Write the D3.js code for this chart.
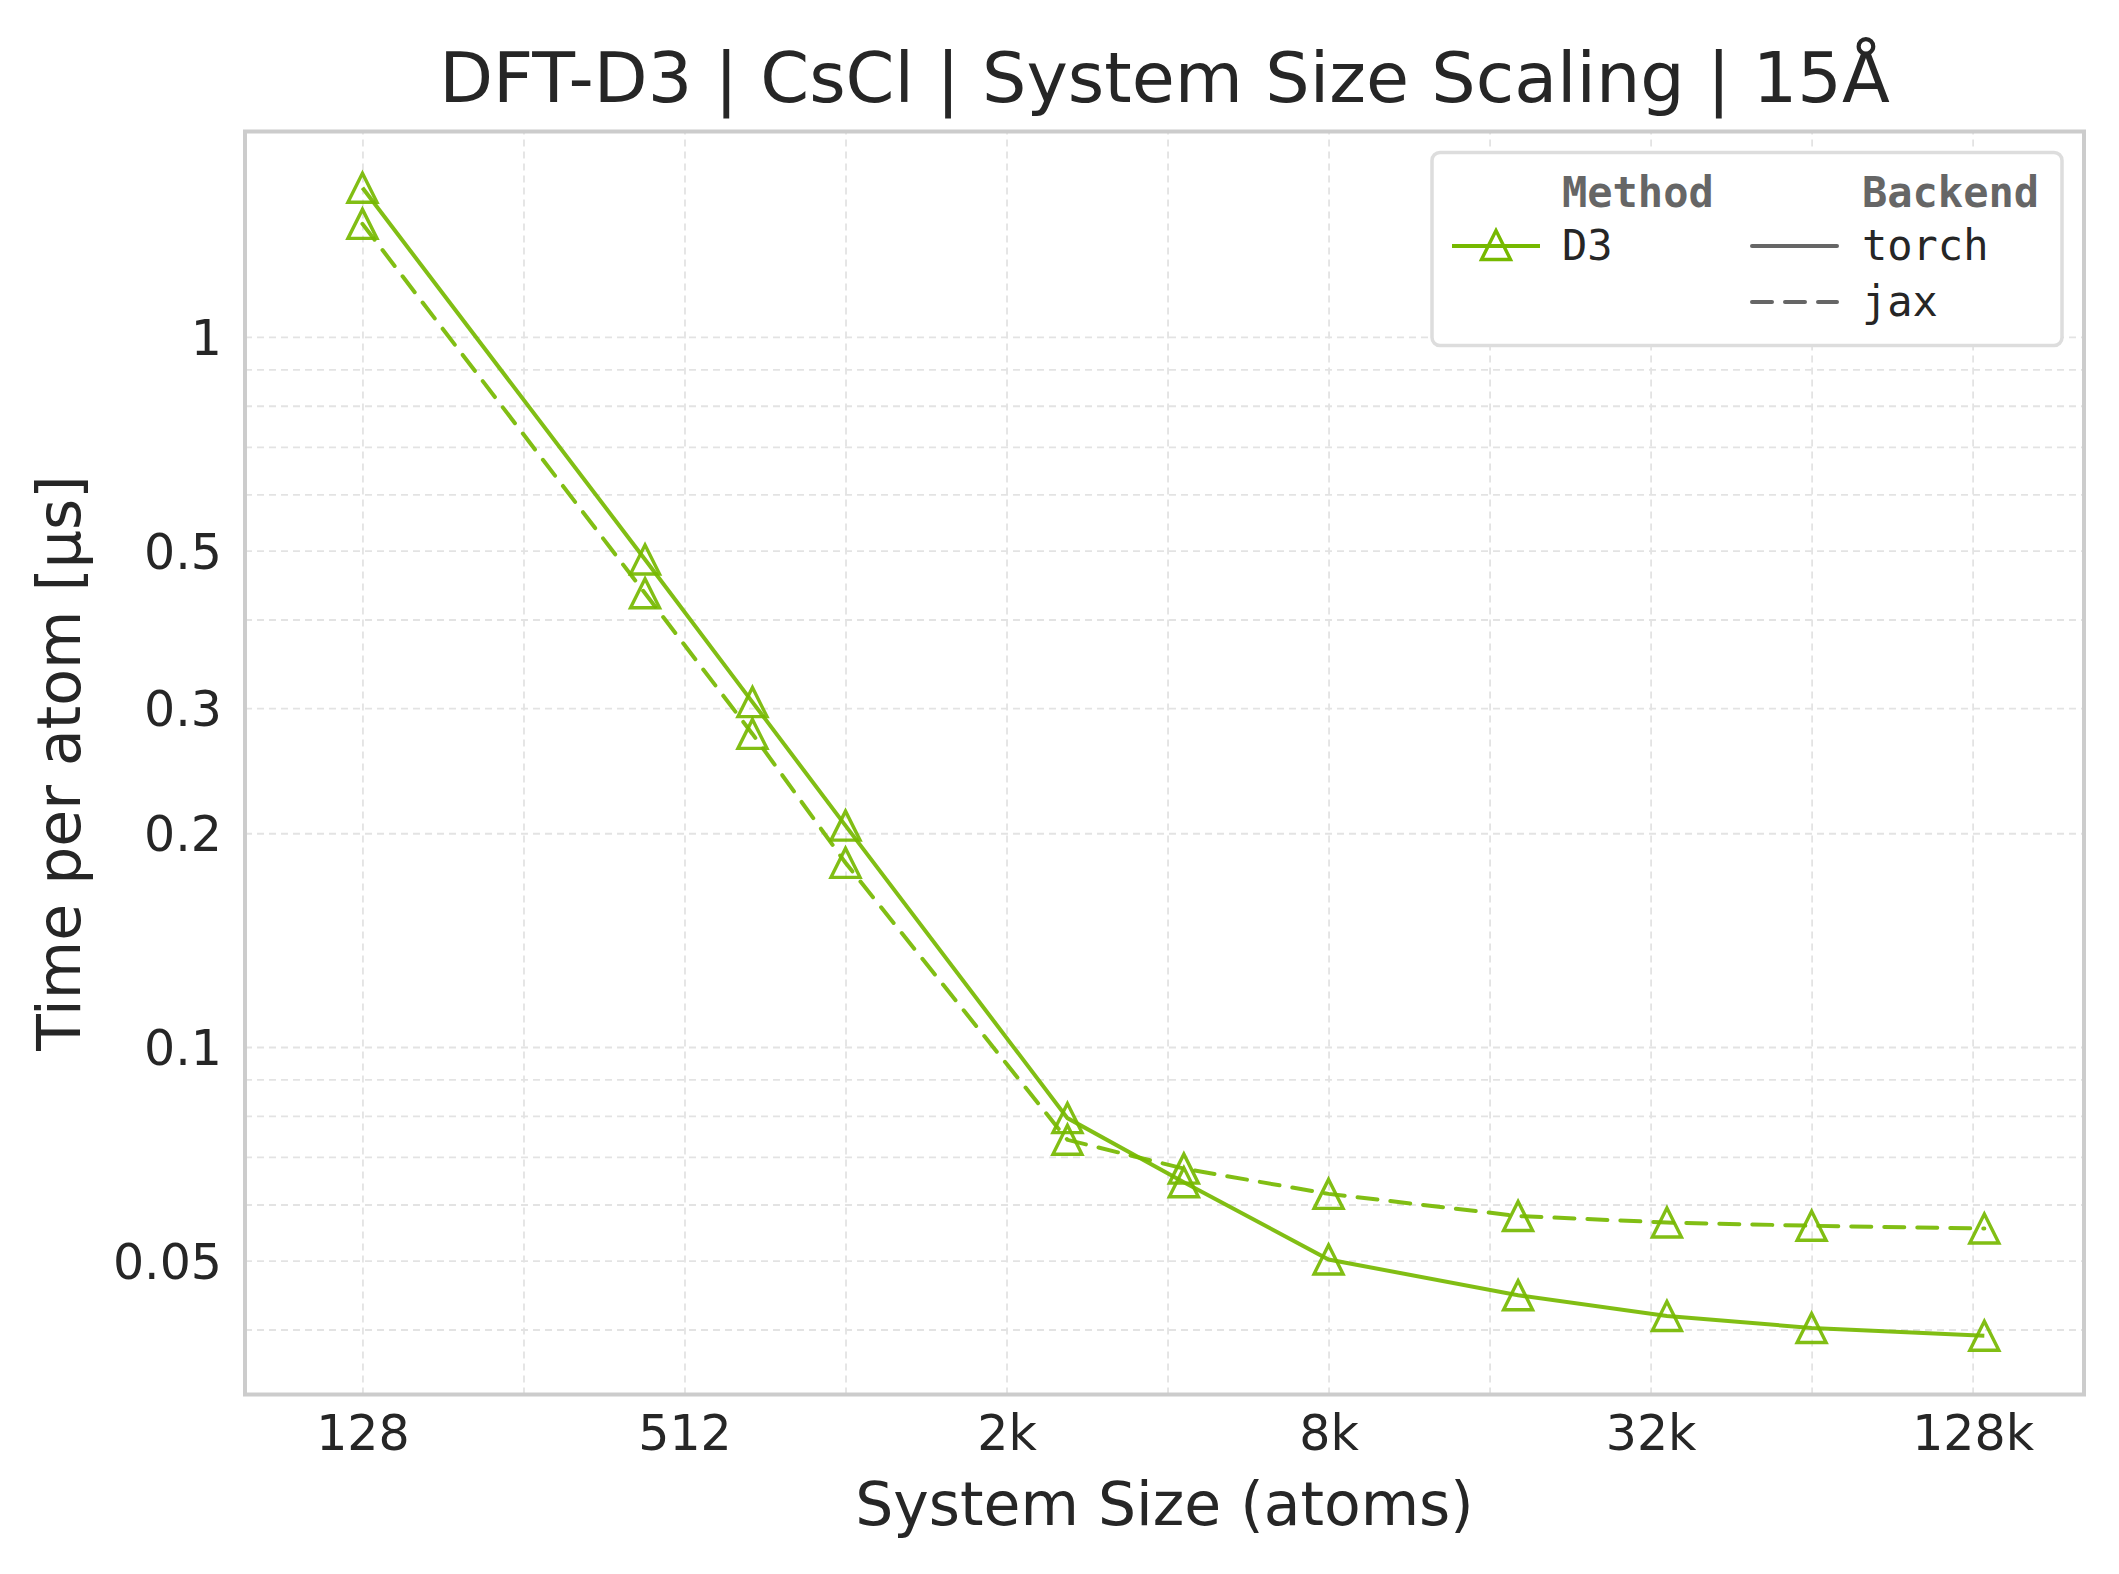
<!DOCTYPE html>
<meta charset="utf-8">
<style>
    body { margin: 0; background: #fff; }
    text { font-family: "DejaVu Sans", sans-serif; fill: #262626; }
    .grid line { stroke: #e3e3e3; stroke-width: 1.8; stroke-dasharray: 7,5; }
    .grid path { display: none; }
    .tick-labels path { display: none; }
    .tick-labels text { font-size: 49px; fill: #262626; }
    .legend text { font-family: "DejaVu Sans Mono", monospace; font-size: 42px; }
    .legend .head { font-weight: bold; fill: #666666; }
</style>
<body>
<script src="https://cdnjs.cloudflare.com/ajax/libs/d3/7.8.5/d3.min.js"></script>
<script>

    // supercell sizes (atoms) and time per atom [us]
    var sizes = [128, 432, 686, 1024, 2662, 4394, 8192, 18522, 35152, 65536, 137842];
    var torchTimes = [1.622, 0.486, 0.306, 0.205, 0.0794, 0.0645, 0.0502, 0.0447, 0.0418, 0.0402, 0.0392];
    var jaxTimes = [1.443, 0.4355, 0.276, 0.1817, 0.0740, 0.0674, 0.0621, 0.0578, 0.0566, 0.0560, 0.0555];

    var xTicks = [128, 512, 2048, 8192, 32768, 131072];
    var xTickLabels = ["128", "512", "2k", "8k", "32k", "128k"];
    var yTicks = [0.05, 0.1, 0.2, 0.3, 0.5, 1];
    var yTickLabels = ["0.05", "0.1", "0.2", "0.3", "0.5", "1"];

    var xGrid = d3.range(7, 18).map(function(p) { return Math.pow(2, p); });
    var yGrid = [0.04, 0.05, 0.06, 0.07, 0.08, 0.09, 0.1, 0.2, 0.3, 0.4, 0.5, 0.6, 0.7, 0.8, 0.9, 1];

    var series = [
        {name: "jax", values: jaxTimes, dash: "20,13"},
        {name: "torch", values: torchTimes, dash: null}
    ];

    var green = "#76b900";

    var W = 2119, H = 1574;
    var margin = {top: 131.5, right: 35, bottom: 179.5, left: 245},
            width = W - margin.left - margin.right,
            height = H - margin.top - margin.bottom;

    var x = d3.scaleLog().base(2).domain([77.2, 211700]).range([0, width]);
    var y = d3.scaleLog().domain([0.0324, 1.947]).range([height, 0]);

    var svg = d3.select("body").append("svg")
            .attr("width", W)
            .attr("height", H);

    var g = svg.append("g")
            .attr("transform", "translate(" + margin.left + "," + margin.top + ")");

    // grid
    g.append("g").attr("class", "grid")
            .attr("transform", "translate(0," + height + ")")
            .call(d3.axisBottom(x).tickValues(xGrid).tickSize(-height).tickFormat(""));
    g.append("g").attr("class", "grid")
            .call(d3.axisLeft(y).tickValues(yGrid).tickSize(-width).tickFormat(""));

    // tick labels
    var xAxis = g.append("g").attr("class", "tick-labels")
            .attr("transform", "translate(0," + height + ")")
            .call(d3.axisBottom(x).tickValues(xTicks).tickSize(0).tickPadding(0)
                    .tickFormat(function(d, i) { return xTickLabels[i]; }));
    xAxis.selectAll("text").attr("dy", null).attr("y", 55);

    var yAxis = g.append("g").attr("class", "tick-labels")
            .call(d3.axisLeft(y).tickValues(yTicks).tickSize(0).tickPadding(0)
                    .tickFormat(function(d, i) { return yTickLabels[i]; }));
    yAxis.selectAll("text").attr("x", -23).attr("dy", "0.36em");

    // lines
    var line = d3.line()
            .x(function(d, i) { return x(sizes[i]); })
            .y(function(d) { return y(d); });

    var tri = "M0,-14.5L14.5,14.5L-14.5,14.5Z";

    series.forEach(function(s) {
        g.append("path")
                .attr("d", line(s.values))
                .attr("fill", "none")
                .attr("stroke", green)
                .attr("stroke-width", 4)
                .attr("stroke-linecap", s.dash ? "round" : "butt")
                .attr("stroke-dasharray", s.dash)
                .attr("opacity", 0.92);
        g.selectAll("path.m-" + s.name).data(s.values).enter()
                .append("path")
                .attr("class", "m-" + s.name)
                .attr("d", tri)
                .attr("transform", function(d, i) { return "translate(" + x(sizes[i]) + "," + y(d) + ")"; })
                .attr("fill", "none")
                .attr("stroke", green)
                .attr("stroke-width", 3.4)
                .attr("opacity", 0.92);
    });

    // frame
    g.append("rect")
            .attr("width", width).attr("height", height)
            .attr("fill", "none").attr("stroke", "#cccccc").attr("stroke-width", 4);

    // titles
    svg.append("text")
            .attr("x", margin.left + width / 2).attr("y", 102)
            .attr("text-anchor", "middle").attr("font-size", 70)
            .text("DFT-D3 | CsCl | System Size Scaling | 15Å");
    svg.append("text")
            .attr("x", margin.left + width / 2).attr("y", 1525)
            .attr("text-anchor", "middle").attr("font-size", 60)
            .text("System Size (atoms)");
    svg.append("text")
            .attr("transform", "translate(80," + (margin.top + height / 2) + ") rotate(-90)")
            .attr("text-anchor", "middle").attr("font-size", 60)
            .text("Time per atom [μs]");

    // legend
    var lg = svg.append("g").attr("class", "legend");
    lg.append("rect")
            .attr("x", 1432).attr("y", 152.5).attr("width", 630).attr("height", 193)
            .attr("rx", 8).attr("fill", "#fff").attr("stroke", "#dddddd").attr("stroke-width", 3.5);
    lg.append("text").attr("class", "head").attr("x", 1562).attr("y", 207).text("Method");
    lg.append("text").attr("class", "head").attr("x", 1862).attr("y", 207).text("Backend");
    lg.append("line").attr("x1", 1452).attr("x2", 1540).attr("y1", 246).attr("y2", 246)
            .attr("stroke", green).attr("stroke-width", 4);
    lg.append("path").attr("d", tri).attr("transform", "translate(1496,245)")
            .attr("fill", "none").attr("stroke", green).attr("stroke-width", 3.4);
    lg.append("text").attr("x", 1562).attr("y", 260).text("D3");

    var backends = [{name: "torch", dash: null, y: 246}, {name: "jax", dash: "20,13", y: 302}];
    backends.forEach(function(b) {
        lg.append("line").attr("x1", 1752).attr("x2", 1837).attr("y1", b.y).attr("y2", b.y)
                .attr("stroke", "#666666").attr("stroke-width", 4)
                .attr("stroke-linecap", "round")
                .attr("stroke-dasharray", b.dash);
        lg.append("text").attr("x", 1862).attr("y", b.y + 14).text(b.name);
    });

</script>
